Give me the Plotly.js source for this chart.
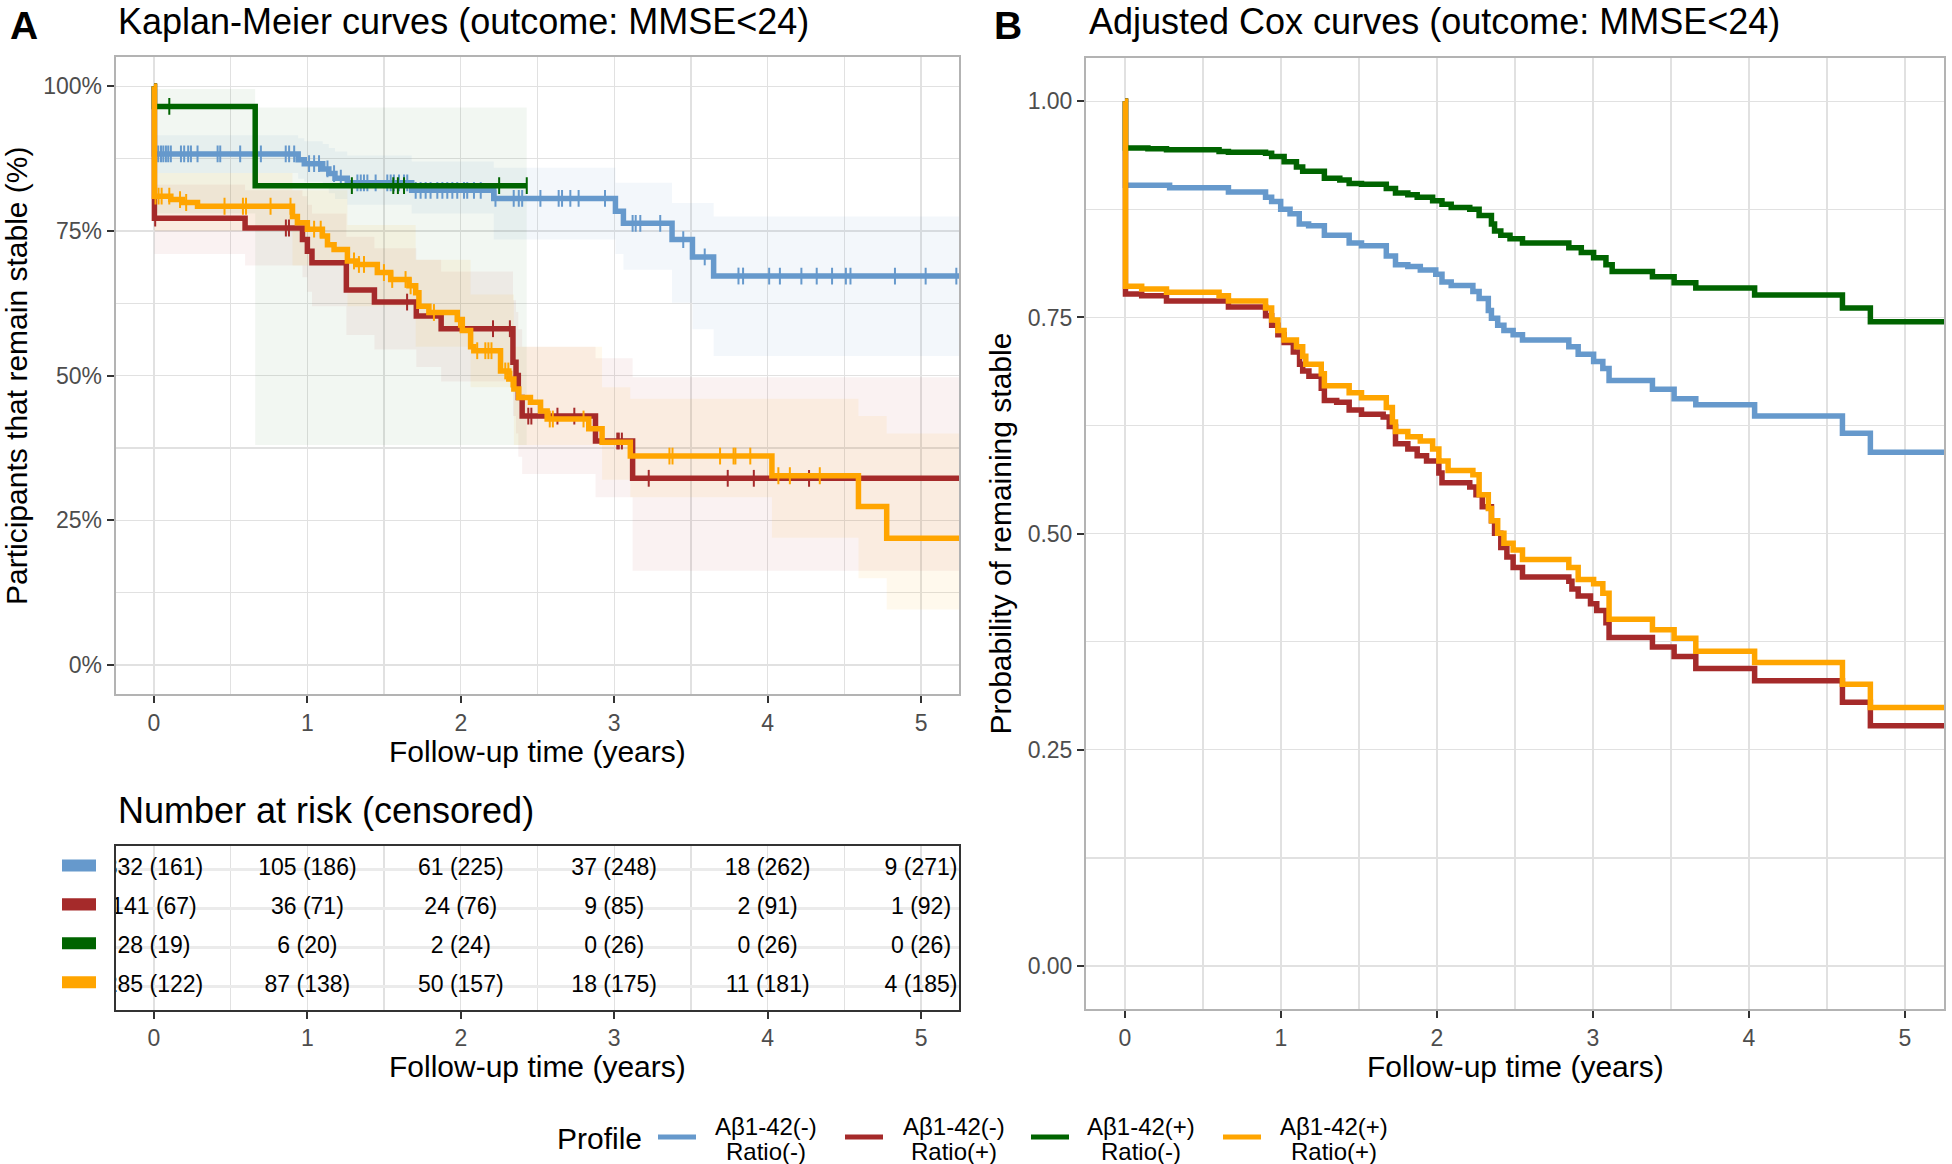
<!DOCTYPE html>
<html>
<head>
<meta charset="utf-8">
<script src="https://cdn.plot.ly/plotly-3.0.1.min.js"></script>
<style>html,body{margin:0;padding:0;background:#fff;}#chart{width:1952px;height:1164px;}</style>
</head>
<body>
<div id="chart"></div>
<script>
// ---------------- DATA ----------------
const groupNames = ["Aβ1-42(-) Ratio(-)", "Aβ1-42(-) Ratio(+)", "Aβ1-42(+) Ratio(-)", "Aβ1-42(+) Ratio(+)"];
const legendLine1 = ["Aβ1-42(-)", "Aβ1-42(-)", "Aβ1-42(+)", "Aβ1-42(+)"];
const legendLine2 = ["Ratio(-)", "Ratio(+)", "Ratio(-)", "Ratio(+)"];
const groupColors = ["#6699CC", "#A52A2A", "#006400", "#FFA500"];
const groupFill = ["rgba(102,153,204,0.08)", "rgba(165,42,42,0.06)", "rgba(0,100,0,0.05)", "rgba(255,165,0,0.07)"];

const xTicks = [0, 1, 2, 3, 4, 5];
const kmYTicks = [0, 0.25, 0.5, 0.75, 1];
const kmYLabels = ["0%", "25%", "50%", "75%", "100%"];
const coxYTicks = [0, 0.25, 0.5, 0.75, 1];

// Kaplan-Meier (panel A)
const kmBlueT  = [0, 0.003, 0.94, 0.98, 1.10, 1.14, 1.18, 1.26, 1.68, 2.215, 3.008, 3.06, 3.377, 3.51, 3.648, 5.6];
const kmBlueS  = [1, 0.883, 0.873, 0.866, 0.857, 0.849, 0.841, 0.833, 0.820, 0.806, 0.784, 0.763, 0.735, 0.705, 0.672, 0.672];
const kmBlueLo = [1, 0.850, 0.840, 0.835, 0.825, 0.815, 0.805, 0.795, 0.780, 0.735, 0.710, 0.683, 0.626, 0.580, 0.534, 0.534];
const kmBlueHi = [1, 0.915, 0.910, 0.905, 0.900, 0.893, 0.887, 0.880, 0.870, 0.859, 0.833, 0.833, 0.798, 0.798, 0.775, 0.775];

const kmRedT  = [0, 0.003, 0.594, 0.968, 1.0, 1.03, 1.254, 1.437, 1.71, 1.872, 2.34, 2.36, 2.375, 2.40, 2.878, 3.12, 5.6];
const kmRedS  = [1, 0.772, 0.755, 0.735, 0.715, 0.695, 0.648, 0.627, 0.603, 0.581, 0.523, 0.500, 0.462, 0.430, 0.387, 0.3226, 0.3226];
const kmRedLo = [1, 0.710, 0.690, 0.670, 0.645, 0.620, 0.570, 0.545, 0.515, 0.490, 0.430, 0.400, 0.360, 0.330, 0.290, 0.163, 0.163];
const kmRedHi = [1, 0.830, 0.820, 0.810, 0.795, 0.780, 0.740, 0.720, 0.700, 0.680, 0.630, 0.610, 0.580, 0.550, 0.530, 0.497, 0.497];

const kmGreenT  = [0, 0.003, 0.66, 2.43];
const kmGreenS  = [1, 0.965, 0.828, 0.828];
const kmGreenLo = [1, 0.780, 0.380, 0.380];
const kmGreenHi = [1, 0.995, 0.963, 0.963];

const kmOrangeT = [0, 0.003, 0.11, 0.186, 0.284, 0.903, 0.935, 1.0, 1.098, 1.131, 1.174, 1.261, 1.326, 1.456, 1.543, 1.662, 1.706, 1.727, 1.792, 1.977, 2.01, 2.064, 2.085, 2.259, 2.313, 2.346, 2.378, 2.454, 2.52, 2.563, 2.834, 2.921, 3.105, 4.028, 4.592, 4.776, 5.6];
const kmOrangeS = [1, 0.81, 0.804, 0.799, 0.7925, 0.775, 0.764, 0.753, 0.741, 0.726, 0.718, 0.698, 0.692, 0.678, 0.666, 0.655, 0.643, 0.62, 0.609, 0.597, 0.578, 0.55, 0.543, 0.508, 0.494, 0.477, 0.462, 0.454, 0.439, 0.425, 0.408, 0.385, 0.361, 0.327, 0.274, 0.219, 0.219];
const kmOrangeBandT = [0, 0.003, 0.903, 1.261, 1.706, 2.064, 2.346, 2.921, 3.105, 4.028, 4.592, 4.776, 5.6];
const kmOrangeLo = [1, 0.75, 0.69, 0.62, 0.55, 0.48, 0.38, 0.32, 0.29, 0.22, 0.15, 0.096, 0.096];
const kmOrangeHi = [1, 0.85, 0.82, 0.76, 0.70, 0.64, 0.55, 0.48, 0.46, 0.46, 0.43, 0.40, 0.40];

// censoring times (panel A)
const censBlue = [0.006, 0.013, 0.028, 0.046, 0.061, 0.078, 0.093, 0.11, 0.176, 0.197, 0.223, 0.241, 0.284, 0.415, 0.432, 0.562, 0.697, 0.859, 0.881, 0.914, 1.011, 1.044, 1.076, 1.131, 1.174, 1.218, 1.326, 1.348, 1.369, 1.391, 1.445, 1.521, 1.543, 1.564, 1.597, 1.63, 1.651, 1.706, 1.738, 1.771, 1.803, 1.847, 1.88, 1.912, 1.945, 1.977, 2.021, 2.042, 2.086, 2.13, 2.226, 2.345, 2.378, 2.40, 2.519, 2.638, 2.66, 2.714, 2.768, 2.94, 3.12, 3.14, 3.17, 3.30, 3.45, 3.59, 3.81, 3.84, 4.01, 4.08, 4.22, 4.32, 4.42, 4.51, 4.54, 4.83, 5.03, 5.23];
const censRed = [0.008, 0.86, 0.88, 1.65, 2.21, 2.32, 2.365, 2.44, 2.46, 2.63, 2.74, 3.02, 3.03, 3.05, 3.225, 3.74, 3.91, 4.27];
const censGreen = [0.008, 0.1, 1.29, 1.56, 1.59, 1.63, 2.25, 2.43];
const censOrange = [0.01, 0.03, 0.05, 0.1, 0.17, 0.21, 0.46, 0.58, 0.6, 0.76, 0.89, 1.044, 1.087, 1.304, 1.336, 1.369, 1.499, 1.553, 1.64, 1.673, 1.825, 1.988, 2.107, 2.16, 2.18, 2.2, 2.29, 2.31, 2.33, 2.58, 2.6, 2.8, 3.36, 3.38, 3.69, 3.778, 3.79, 3.887, 4.07, 4.145, 4.34];

// Adjusted Cox curves (panel B)
const coxBlueT = [0, 0.003, 0.286, 0.663, 0.901, 0.94, 0.998, 1.058, 1.117, 1.177, 1.278, 1.437, 1.516, 1.675, 1.734, 1.813, 1.893, 1.992, 2.032, 2.091, 2.23, 2.27, 2.329, 2.349, 2.389, 2.429, 2.488, 2.548, 2.845, 2.905, 3.004, 3.063, 3.103, 3.381, 3.52, 3.659, 4.036, 4.599, 4.778, 5.6];
const coxBlueS = [1, 0.903, 0.900, 0.895, 0.889, 0.884, 0.875, 0.870, 0.858, 0.856, 0.845, 0.836, 0.833, 0.821, 0.811, 0.809, 0.805, 0.800, 0.791, 0.787, 0.780, 0.772, 0.758, 0.749, 0.741, 0.735, 0.730, 0.724, 0.716, 0.7075, 0.699, 0.691, 0.677, 0.667, 0.656, 0.649, 0.636, 0.616, 0.594, 0.594];
const coxRedT = [0, 0.003, 0.107, 0.266, 0.663, 0.901, 0.94, 0.98, 1.02, 1.079, 1.119, 1.139, 1.179, 1.258, 1.278, 1.357, 1.437, 1.516, 1.655, 1.694, 1.734, 1.813, 1.873, 1.933, 2.012, 2.032, 2.21, 2.25, 2.29, 2.349, 2.369, 2.409, 2.448, 2.488, 2.548, 2.845, 2.865, 2.905, 2.984, 3.024, 3.083, 3.103, 3.381, 3.52, 3.659, 4.036, 4.599, 4.778, 5.6];
const coxRedS = [1, 0.777, 0.775, 0.769, 0.762, 0.752, 0.741, 0.730, 0.721, 0.710, 0.696, 0.688, 0.682, 0.668, 0.654, 0.652, 0.643, 0.638, 0.635, 0.624, 0.604, 0.598, 0.590, 0.584, 0.570, 0.559, 0.554, 0.545, 0.531, 0.515, 0.5005, 0.484, 0.473, 0.461, 0.450, 0.445, 0.436, 0.428, 0.419, 0.411, 0.397, 0.380, 0.369, 0.358, 0.344, 0.330, 0.305, 0.278, 0.278];
const coxGreenT = [0, 0.003, 0.147, 0.266, 0.603, 0.663, 0.901, 0.94, 1.02, 1.099, 1.139, 1.278, 1.377, 1.437, 1.516, 1.675, 1.734, 1.813, 1.873, 1.972, 2.032, 2.091, 2.21, 2.27, 2.349, 2.369, 2.409, 2.468, 2.548, 2.845, 2.925, 3.004, 3.083, 3.123, 3.381, 3.52, 3.659, 4.036, 4.599, 4.778, 5.6];
const coxGreenS = [1, 0.946, 0.945, 0.944, 0.942, 0.941, 0.940, 0.936, 0.930, 0.924, 0.919, 0.911, 0.909, 0.905, 0.904, 0.899, 0.894, 0.892, 0.889, 0.885, 0.881, 0.877, 0.875, 0.868, 0.858, 0.850, 0.845, 0.841, 0.836, 0.8305, 0.825, 0.819, 0.811, 0.803, 0.797, 0.790, 0.784, 0.776, 0.761, 0.745, 0.745];
const coxOrangeT = [0, 0.003, 0.107, 0.266, 0.603, 0.663, 0.901, 0.94, 0.98, 1.02, 1.099, 1.139, 1.159, 1.258, 1.278, 1.437, 1.516, 1.675, 1.714, 1.734, 1.813, 1.893, 1.972, 2.012, 2.071, 2.23, 2.27, 2.329, 2.349, 2.389, 2.429, 2.488, 2.548, 2.845, 2.905, 3.004, 3.063, 3.103, 3.381, 3.52, 3.659, 4.036, 4.599, 4.778, 5.6];
const coxOrangeS = [1, 0.786, 0.783, 0.779, 0.775, 0.769, 0.761, 0.747, 0.735, 0.724, 0.716, 0.705, 0.696, 0.685, 0.671, 0.663, 0.657, 0.646, 0.629, 0.618, 0.612, 0.607, 0.598, 0.584, 0.573, 0.568, 0.545, 0.529, 0.515, 0.5005, 0.489, 0.481, 0.470, 0.461, 0.447, 0.442, 0.431, 0.401, 0.389, 0.379, 0.364, 0.351, 0.326, 0.299, 0.299];

// Number at risk (censored)
const riskTimes = [0, 1, 2, 3, 4, 5];
const riskBlue   = ["332 (161)", "105 (186)", "61 (225)", "37 (248)", "18 (262)", "9 (271)"];
const riskRed    = ["141 (67)", "36 (71)", "24 (76)", "9 (85)", "2 (91)", "1 (92)"];
const riskGreen  = ["28 (19)", "6 (20)", "2 (24)", "0 (26)", "0 (26)", "0 (26)"];
const riskOrange = ["285 (122)", "87 (138)", "50 (157)", "18 (175)", "11 (181)", "4 (185)"];
const riskRows = [4, 3, 2, 1];

// ---------------- BUILD ----------------
const FONT = "Liberation Sans, Arial, Helvetica, sans-serif";
const W = 1952, H = 1164;
const px = v => v / W;
const py = v => 1 - v / H;

function stepAt(T, S, c) { let v = S[0]; for (let i = 0; i < T.length; i++) { if (T[i] <= c) v = S[i]; } return v; }

const km = [
  {T: kmBlueT, S: kmBlueS, BT: kmBlueT, lo: kmBlueLo, hi: kmBlueHi, cens: censBlue},
  {T: kmRedT, S: kmRedS, BT: kmRedT, lo: kmRedLo, hi: kmRedHi, cens: censRed},
  {T: kmGreenT, S: kmGreenS, BT: kmGreenT, lo: kmGreenLo, hi: kmGreenHi, cens: censGreen},
  {T: kmOrangeT, S: kmOrangeS, BT: kmOrangeBandT, lo: kmOrangeLo, hi: kmOrangeHi, cens: censOrange}
];
const cox = [[coxBlueT, coxBlueS], [coxRedT, coxRedS], [coxGreenT, coxGreenS], [coxOrangeT, coxOrangeS]];
const risk = [riskBlue, riskRed, riskGreen, riskOrange];

const traces = [];
// confidence bands
km.forEach((g, i) => {
  traces.push({x: g.BT, y: g.lo, type: "scatter", mode: "lines", line: {width: 0, shape: "hv"}, xaxis: "x", yaxis: "y", showlegend: false, hoverinfo: "skip"});
  traces.push({x: g.BT, y: g.hi, type: "scatter", mode: "lines", line: {width: 0, shape: "hv"}, fill: "tonexty", fillcolor: groupFill[i], xaxis: "x", yaxis: "y", showlegend: false, hoverinfo: "skip"});
});
// KM lines + censor marks
km.forEach((g, i) => {
  traces.push({x: g.T, y: g.S, type: "scatter", mode: "lines", name: groupNames[i], line: {color: groupColors[i], width: 5.5, shape: "hv"}, xaxis: "x", yaxis: "y", showlegend: false});
  traces.push({x: g.cens, y: g.cens.map(c => stepAt(g.T, g.S, c)), type: "scatter", mode: "markers", marker: {symbol: "line-ns-open", size: 12, color: groupColors[i], line: {color: groupColors[i], width: 2}}, xaxis: "x", yaxis: "y", showlegend: false, hoverinfo: "skip"});
});
// Cox lines
cox.forEach((c, i) => {
  traces.push({x: c[0], y: c[1], type: "scatter", mode: "lines", name: groupNames[i], line: {color: groupColors[i], width: 5.5, shape: "hv"}, xaxis: "x2", yaxis: "y2", showlegend: false});
});
// risk table text
risk.forEach((r, i) => {
  traces.push({x: riskTimes, y: riskTimes.map(() => riskRows[i]), text: r, type: "scatter", mode: "text", textposition: "middle center", textfont: {family: FONT, size: 23, color: "#000"}, cliponaxis: true, xaxis: "x3", yaxis: "y3", showlegend: false, hoverinfo: "skip"});
});

const gridC = "#e1e1e1";
const tickFont = {family: FONT, size: 23, color: "#4d4d4d"};
function xAx(domain, anchor) {
  return {domain: domain, anchor: anchor, range: [-0.25, 5.25], tickvals: xTicks, ticks: "outside", ticklen: 7, tickwidth: 2, tickcolor: "#333",
    showline: true, mirror: true, linecolor: "#b3b3b3", linewidth: 2, showgrid: true, gridcolor: gridC, gridwidth: 1.3,
    minor: {tick0: 0, dtick: 0.5, showgrid: true, gridcolor: gridC, gridwidth: 1.3}, zeroline: false, tickfont: tickFont, fixedrange: true};
}
function yAx(domain, anchor, vals, text) {
  const a = {domain: domain, anchor: anchor, range: [-0.05, 1.05], tickvals: vals, ticks: "outside", ticklen: 7, tickwidth: 2, tickcolor: "#333",
    showline: true, mirror: true, linecolor: "#b3b3b3", linewidth: 2, showgrid: true, gridcolor: gridC, gridwidth: 1.3,
    minor: {tick0: 0, dtick: 0.125, showgrid: true, gridcolor: gridC, gridwidth: 1.3}, zeroline: false, tickfont: tickFont, fixedrange: true};
  if (text) a.ticktext = text; else a.tickformat = ".2f";
  return a;
}

const xA = xAx([px(115.6), px(959.4)], "y");
const yA = yAx([py(694), py(57.2)], "x", kmYTicks, kmYLabels);
const xB = xAx([px(1086), px(1944)], "y2");
const yB = yAx([py(1009.3), py(58)], "x2", coxYTicks, null);
const xR = xAx([px(115.6), px(959.4)], "y3");
xR.linecolor = "#333";
const yR = {domain: [py(1009.5), py(846)], anchor: "x3", range: [0.4, 4.6], tickvals: riskRows, showticklabels: false, ticks: "",
  showline: true, mirror: true, linecolor: "#333", linewidth: 2, showgrid: true, gridcolor: "#ebebeb", gridwidth: 3, zeroline: false, fixedrange: true};

const ann = [];
function A(text, x, y, size, opts) {
  ann.push(Object.assign({text: text, x: px(x), y: py(y), xref: "paper", yref: "paper", showarrow: false, xanchor: "center", yanchor: "middle",
    font: {family: FONT, size: size, color: "#000"}}, opts || {}));
}
A("<b>A</b>", 24, 25, 39);
A("Kaplan-Meier curves (outcome: MMSE<24)", 116, 21, 36, {xanchor: "left"});
A("<b>B</b>", 1008, 25, 39);
A("Adjusted Cox curves (outcome: MMSE<24)", 1087, 21, 36, {xanchor: "left"});
A("Participants that remain stable (%)", 17, 376, 30, {textangle: -90});
A("Follow-up time (years)", 537.5, 751, 30);
A("Number at risk (censored)", 116, 810, 36, {xanchor: "left"});
A("Follow-up time (years)", 537.5, 1066, 30);
A("Probability of remaining stable", 1000, 533.5, 30, {textangle: -90});
A("Follow-up time (years)", 1515, 1066, 30);
A("Profile", 555, 1138, 30, {xanchor: "left"});

const shapes = [];
const keyX = [658, 845, 1031, 1223];
const labX = [766, 954, 1141, 1334];
groupColors.forEach((c, i) => {
  shapes.push({type: "line", xref: "paper", yref: "paper", x0: px(keyX[i]), x1: px(keyX[i] + 38), y0: py(1137), y1: py(1137), line: {color: c, width: 5}});
  A(legendLine1[i], labX[i], 1126, 24);
  A(legendLine2[i], labX[i], 1151, 24);
  // risk table swatches
  shapes.push({type: "rect", xref: "paper", yref: "y3", x0: px(62), x1: px(96), y0: riskRows[i] + 0.1 - 0.155, y1: riskRows[i] + 0.1 + 0.155, line: {width: 0}, fillcolor: c});
});

const layout = {
  width: W, height: H, margin: {l: 0, r: 0, t: 0, b: 0}, paper_bgcolor: "#fff", plot_bgcolor: "#fff",
  font: {family: FONT}, showlegend: false,
  xaxis: xA, yaxis: yA, xaxis2: xB, yaxis2: yB, xaxis3: xR, yaxis3: yR,
  annotations: ann, shapes: shapes
};
Plotly.newPlot("chart", traces, layout, {displayModeBar: false, staticPlot: true});
</script>
</body>
</html>
